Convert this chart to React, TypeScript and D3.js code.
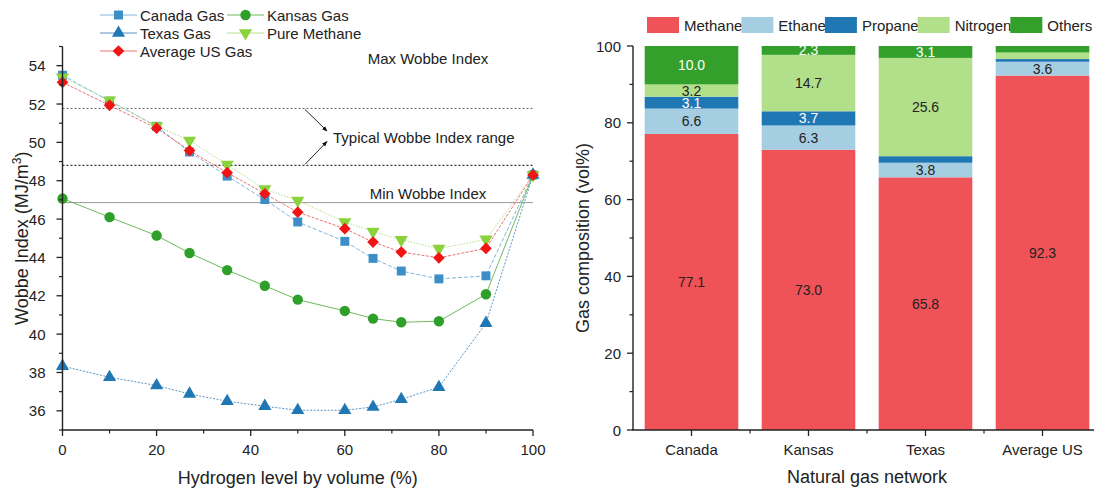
import React from "react";
import * as d3 from "d3";

// ---- left chart data (Wobbe index vs hydrogen blend) ----
const hydrogenLevels = [0, 10, 20, 27, 35, 43, 50, 60, 66, 72, 80, 90, 100];
const canadaGas = [53.5, 52.15, 50.84, 49.5, 48.24, 47.02, 45.85, 44.84, 43.95, 43.29, 42.88, 43.04, 48.3];
const kansasGas = [47.07, 46.1, 45.14, 44.23, 43.34, 42.52, 41.8, 41.21, 40.81, 40.62, 40.67, 42.08, 48.3];
const texasGas = [38.33, 37.75, 37.32, 36.88, 36.5, 36.24, 36.03, 36.03, 36.2, 36.6, 37.23, 40.57, 48.3];
const pureMethane = [53.4, 52.19, 50.85, 50.1, 48.84, 47.56, 46.97, 45.85, 45.35, 44.92, 44.46, 44.94, 48.3];
const averageUSGas = [53.13, 51.93, 50.74, 49.57, 48.42, 47.32, 46.36, 45.5, 44.8, 44.28, 43.98, 44.47, 48.3];

const typicalWobbeMax = 51.77;
const typicalWobbeMin = 48.8;
const minWobbe = 46.86;

// ---- right chart data (gas composition) ----
const networks = ["Canada", "Kansas", "Texas", "Average US"];
const components = ["Methane", "Ethane", "Propane", "Nitrogen", "Others"];
const methane = [77.1, 73.0, 65.8, 92.3];
const ethane = [6.6, 6.3, 3.8, 3.6];
const propane = [3.1, 3.7, 1.7, 0.7];
const nitrogen = [3.2, 14.7, 25.6, 1.7];
const others = [10.0, 2.3, 3.1, 1.7];

const FONT = "'Liberation Sans', Arial, Helvetica, sans-serif";
const INK = "#222";

const series = [
  { name: "Canada Gas", values: canadaGas, line: "#7fb6dc", fill: "#3b8fc6", symbol: d3.symbolSquare, size: 80, dash: "4 2" },
  { name: "Kansas Gas", values: kansasGas, line: "#6dbb5f", fill: "#2ea02a", symbol: d3.symbolCircle, size: 85, dash: "" },
  { name: "Texas Gas", values: texasGas, line: "#5a93c4", fill: "#1f78b4", symbol: d3.symbolTriangle, size: 75, dash: "2 1.5" },
  { name: "Pure Methane", values: pureMethane, line: "#b6e08c", fill: "#8ad33a", symbol: d3.symbolTriangle, size: 75, dash: "1.5 1.5", rot: 180 },
  { name: "Average US Gas", values: averageUSGas, line: "#f07070", fill: "#f01414", symbol: d3.symbolSquare, size: 68, dash: "3 1.5", rot: 45 },
];

const compColors = ["#ef5257", "#a6cee3", "#1f78b4", "#b2df8a", "#33a02c"];
const compLabelColors = [INK, INK, "#fff", INK, "#fff"];

function measure(text: string, size: number) {
  const c = document.createElement("canvas").getContext("2d")!;
  c.font = `${size}px ${FONT}`;
  return c.measureText(text).width;
}

function WobbeChart() {
  const x = d3.scaleLinear().domain([0, 100]).range([62.5, 533]);
  const y = d3.scaleLinear().domain([35, 55]).range([430, 46.5]);
  const [x0, x1] = x.range();

  const line = (vals: number[]) =>
    d3.line<number>().x((_, i) => x(hydrogenLevels[i])).y((d) => y(d))(vals) || "";

  const markerPath = (s: any) => d3.symbol(s.symbol, s.size)() || "";
  const rot = (s: any) => (s.rot ? ` rotate(${s.rot})` : "");

  const xMajor = d3.range(0, 101, 20);
  const xMinor = d3.range(10, 100, 20);
  const yMajor = d3.range(36, 55, 2);
  const yMinor = d3.range(35, 56, 2);

  const legendRows = [
    [series[0], series[1]],
    [series[2], series[3]],
    [series[4]],
  ];

  return (
    <g fontFamily={FONT} fill={INK}>
      <defs>
        <marker id="arr" viewBox="0 0 10 10" refX="9" refY="5" markerWidth="6" markerHeight="6" orient="auto">
          <path d="M0,1 L10,5 L0,9 z" fill="#111" />
        </marker>
      </defs>

      {/* reference lines */}
      <line x1={x0} x2={x1} y1={y(typicalWobbeMax)} y2={y(typicalWobbeMax)} stroke="#666" strokeDasharray="2 2" strokeWidth={1} />
      <line x1={x0} x2={x1} y1={y(typicalWobbeMin)} y2={y(typicalWobbeMin)} stroke="#333" strokeDasharray="2 2" strokeWidth={1.2} />
      <line x1={x0} x2={x1} y1={y(minWobbe)} y2={y(minWobbe)} stroke="#999" strokeWidth={1} />

      <text x={428} y={y(54.35)} fontSize={15} textAnchor="middle" dominantBaseline="central">Max Wobbe Index</text>
      <text x={333} y={y(50.26)} fontSize={15} dominantBaseline="central">Typical Wobbe Index range</text>
      <text x={428} y={y(47.34)} fontSize={15} textAnchor="middle" dominantBaseline="central">Min Wobbe Index</text>
      <line x1={305} y1={y(typicalWobbeMax) + 1} x2={327} y2={131} stroke="#111" strokeWidth={0.9} markerEnd="url(#arr)" />
      <line x1={305} y1={y(typicalWobbeMin) - 1} x2={327} y2={141.5} stroke="#111" strokeWidth={0.9} markerEnd="url(#arr)" />

      {/* series */}
      {series.map((s) => (
        <path key={s.name + "l"} d={line(s.values)} fill="none" stroke={s.line} strokeWidth={1} strokeDasharray={s.dash} />
      ))}
      {series.map((s) => (
        <g key={s.name + "m"}>
          {s.values.map((v, i) => (
            <path
              key={i}
              d={markerPath(s)}
              transform={`translate(${x(hydrogenLevels[i])},${y(v)})${rot(s)}`}
              fill={s.fill}
            />
          ))}
        </g>
      ))}

      {/* axes */}
      <line x1={x0} x2={x0} y1={y(55)} y2={y(35)} stroke={INK} strokeWidth={1.4} />
      <line x1={x0 - 0.7} x2={x1} y1={y(35)} y2={y(35)} stroke={INK} strokeWidth={1.4} />
      {yMajor.map((t) => (
        <g key={"ym" + t}>
          <line x1={x0 - 6} x2={x0} y1={y(t)} y2={y(t)} stroke={INK} strokeWidth={1.3} />
          <text x={x0 - 17} y={y(t)} fontSize={15} textAnchor="end" dominantBaseline="central">{t}</text>
        </g>
      ))}
      {yMinor.map((t) => (
        <line key={"yn" + t} x1={x0 - 3.5} x2={x0} y1={y(t)} y2={y(t)} stroke={INK} strokeWidth={1.2} />
      ))}
      {xMajor.map((t) => (
        <g key={"xm" + t}>
          <line x1={x(t)} x2={x(t)} y1={y(35)} y2={y(35) + 6} stroke={INK} strokeWidth={1.3} />
          <text x={x(t)} y={455} fontSize={15} textAnchor="middle">{t}</text>
        </g>
      ))}
      {xMinor.map((t) => (
        <line key={"xn" + t} x1={x(t)} x2={x(t)} y1={y(35)} y2={y(35) + 3.5} stroke={INK} strokeWidth={1.2} />
      ))}

      <text x={(x0 + x1) / 2} y={484} fontSize={18} textAnchor="middle">Hydrogen level by volume (%)</text>
      <text transform={`translate(28,${(y(35) + y(55)) / 2}) rotate(-90)`} fontSize={18} textAnchor="middle">
        Wobbe Index (MJ/m<tspan fontSize={12} dy={-7}>3</tspan><tspan dy={7}>)</tspan>
      </text>

      {/* legend */}
      {legendRows.map((row, r) =>
        row.map((s, c) => {
          const lx = c === 0 ? 100 : 227;
          const ly = 15 + r * 18;
          return (
            <g key={s.name + "lg"}>
              <line x1={lx} x2={lx + 37} y1={ly} y2={ly} stroke={s.line} strokeWidth={1} />
              <path d={markerPath(s)} transform={`translate(${lx + 18.5},${ly})${rot(s)}`} fill={s.fill} />
              <text x={lx + 40} y={ly} fontSize={15} dominantBaseline="central">{s.name}</text>
            </g>
          );
        })
      )}
    </g>
  );
}

function CompositionChart() {
  const x = d3.scaleBand().domain(networks).range([633, 1101]).paddingInner(0.2).paddingOuter(0.1);
  const y = d3.scaleLinear().domain([0, 100]).range([430, 46]);
  const axisX = 633;

  const rows = networks.map((n, i) => ({
    network: n,
    Methane: methane[i],
    Ethane: ethane[i],
    Propane: propane[i],
    Nitrogen: nitrogen[i],
    Others: others[i],
  }));
  const stacked = d3.stack<any>().keys(components)(rows);

  // legend layout
  let cursor = 647;
  const legendItems = components.map((c, i) => {
    const item = { name: c, x: cursor, color: compColors[i] };
    cursor += 32 + 5 + measure(c, 15) - 1;
    return item;
  });

  const step = x.step();

  return (
    <g fontFamily={FONT} fill={INK}>
      {stacked.map((layer, k) => (
        <g key={layer.key}>
          {layer.map((d, i) => {
            const v = d[1] - d[0];
            const bx = x(networks[i])!;
            return (
              <g key={i}>
                <rect x={bx} width={x.bandwidth()} y={y(d[1])} height={y(d[0]) - y(d[1])} fill={compColors[k]} />
                {v >= 2 && (
                  <text
                    x={bx + x.bandwidth() / 2}
                    y={y((d[0] + d[1]) / 2)}
                    fontSize={14}
                    textAnchor="middle"
                    dominantBaseline="central"
                    fill={compLabelColors[k]}
                  >
                    {v.toFixed(1)}
                  </text>
                )}
              </g>
            );
          })}
        </g>
      ))}

      {/* axes */}
      <line x1={axisX} x2={axisX} y1={y(100)} y2={y(0)} stroke={INK} strokeWidth={1.4} />
      <line x1={axisX - 0.7} x2={1094} y1={y(0)} y2={y(0)} stroke={INK} strokeWidth={1.4} />
      {d3.range(0, 101, 20).map((t) => (
        <g key={"ry" + t}>
          <line x1={axisX - 6} x2={axisX} y1={y(t)} y2={y(t)} stroke={INK} strokeWidth={1.3} />
          <text x={axisX - 12} y={y(t)} fontSize={15} textAnchor="end" dominantBaseline="central">{t}</text>
        </g>
      ))}
      {d3.range(10, 100, 20).map((t) => (
        <line key={"rn" + t} x1={axisX - 3.5} x2={axisX} y1={y(t)} y2={y(t)} stroke={INK} strokeWidth={1.2} />
      ))}
      {networks.map((n) => {
        const cx = x(n)! + x.bandwidth() / 2;
        return (
          <g key={"rx" + n}>
            <line x1={cx} x2={cx} y1={y(0)} y2={y(0) + 6} stroke={INK} strokeWidth={1.3} />
            <text x={cx} y={455} fontSize={15} textAnchor="middle">{n}</text>
          </g>
        );
      })}
      {networks.slice(1).map((n) => {
        const bx = x(n)! + x.bandwidth() / 2 - step / 2;
        return <line key={"rxm" + n} x1={bx} x2={bx} y1={y(0)} y2={y(0) + 3.5} stroke={INK} strokeWidth={1.2} />;
      })}

      <text x={867} y={483} fontSize={18} textAnchor="middle">Natural gas network</text>
      <text transform={`translate(589,${(y(0) + y(100)) / 2}) rotate(-90)`} fontSize={18} textAnchor="middle">
        Gas composition (vol%)
      </text>

      {legendItems.map((it) => (
        <g key={it.name + "lg"}>
          <rect x={it.x} y={17} width={32} height={16} fill={it.color} />
          <text x={it.x + 37} y={25} fontSize={15} dominantBaseline="central">{it.name}</text>
        </g>
      ))}
    </g>
  );
}

export default function App() {
  return (
    <div style={{ position: "absolute", left: 0, top: 0 }}>
      <svg width={1094} height={488} style={{ display: "block", background: "#fff" }}>
        <WobbeChart />
        <CompositionChart />
      </svg>
    </div>
  );
}
